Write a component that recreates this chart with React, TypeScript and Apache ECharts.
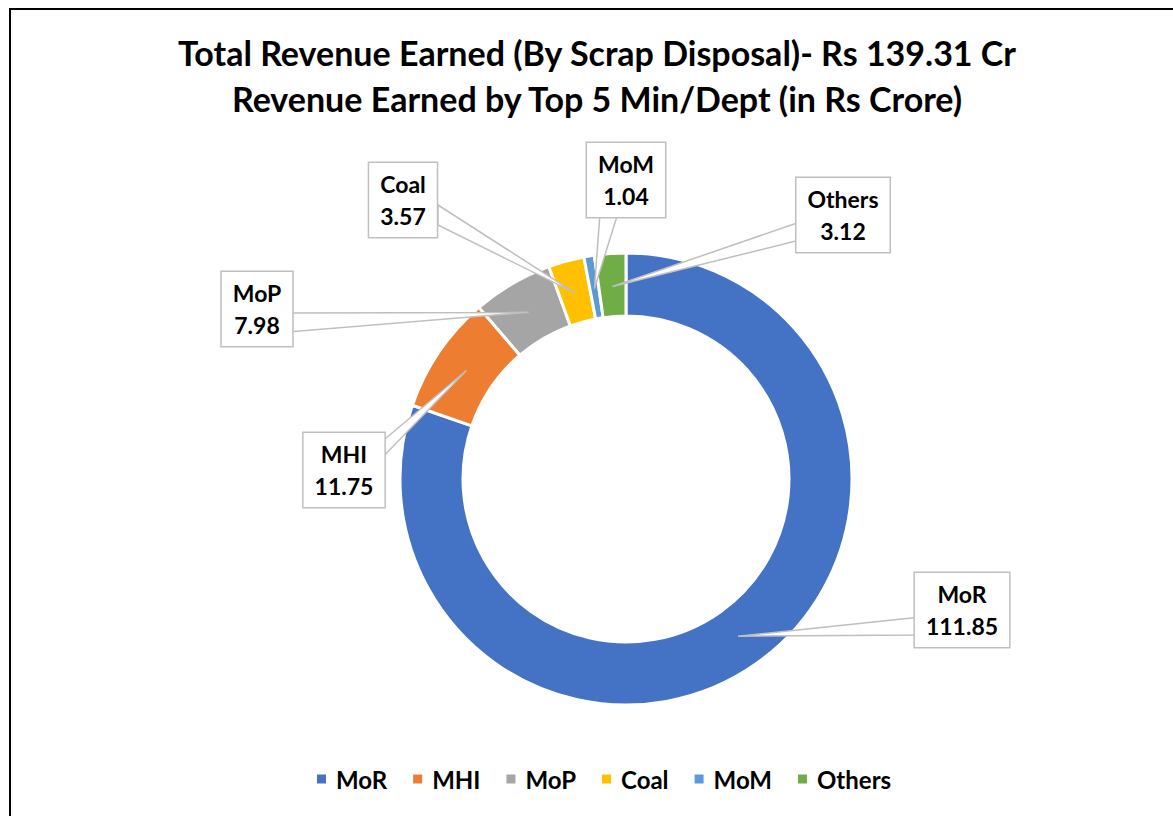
import React, { useEffect, useRef } from 'react';
import * as echarts from 'echarts';

// ---- data ----
const categories = ['MoR', 'MHI', 'MoP', 'Coal', 'MoM', 'Others'];
const revenue = [111.85, 11.75, 7.98, 3.57, 1.04, 3.12];
const colors = ['#4472C4', '#ED7D31', '#A5A5A5', '#FFC000', '#5B9BD5', '#70AD47'];
const titleLines = [
  'Total Revenue Earned (By Scrap Disposal)- Rs 139.31 Cr',
  'Revenue Earned by Top 5 Min/Dept (in Rs Crore)',
];

// ---- layout (positions / sizes) ----
const FONT = 'Lato, "Open Sans", "DejaVu Sans", sans-serif';
const CENTER: [number, number] = [626, 479];
const RADII: [number, number] = [163, 226];
const TIP_R = 193;
const labelBoxes: Record<string, [number, number]> = {
  MoR: [962, 610],
  MHI: [344, 470],
  MoP: [257, 309],
  Coal: [403, 200],
  MoM: [626, 180],
  Others: [843, 215],
};
const wedgeBases: Record<string, [number, number][]> = {
  MoR: [[921, 617], [921, 635]],
  MHI: [[379, 444], [379, 461]],
  MoP: [[288, 313], [288, 332]],
  Coal: [[438, 205], [438, 225]],
  MoM: [[600, 213], [618, 213]],
  Others: [[800, 222], [800, 240]],
};

function tipPoint(i: number): [number, number] {
  const total = revenue.reduce((a, b) => a + b, 0);
  let cum = 0;
  for (let k = 0; k < i; k++) cum += revenue[k];
  const frac = (cum + revenue[i] / 2) / total;
  const th = frac * Math.PI * 2;
  return [CENTER[0] + TIP_R * Math.sin(th), CENTER[1] - TIP_R * Math.cos(th)];
}

export default function App() {
  const ref = useRef<HTMLDivElement>(null);
  useEffect(() => {
    if (!ref.current) return;
    const chart = echarts.init(ref.current, null, { renderer: 'svg' });
    const data = categories.map((name, i) => ({
      name,
      value: revenue[i],
      itemStyle: { color: colors[i] },
    }));
    const wedges = categories.map((name, i) => {
      const [a, b] = wedgeBases[name];
      return {
        type: 'polygon',
        z: 3,
        silent: true,
        shape: { points: [a, tipPoint(i), b] },
        style: { fill: '#ffffff', stroke: '#BFBFBF', lineWidth: 1.5 },
      };
    });
    chart.setOption({
      animation: false,
      backgroundColor: '#ffffff',
      color: colors,
      title: {
        text: titleLines.join('\n'),
        left: 597,
        textAlign: 'center',
        top: 29,
        padding: 0,
        textStyle: {
          fontFamily: FONT,
          fontSize: 34,
          fontWeight: 'bold',
          color: '#000000',
          lineHeight: 46,
        },
      },
      legend: {
        data: categories,
        top: 767,
        left: 315,
        padding: 0,
        icon: 'rect',
        itemWidth: 11,
        itemHeight: 11,
        itemGap: 24,
        textStyle: {
          fontFamily: FONT,
          fontSize: 24,
          fontWeight: 'bold',
          color: '#000000',
          padding: [0, 0, 0, 4],
        },
      },
      graphic: [
        {
          type: 'line',
          z: 10,
          shape: { x1: 9, y1: 9, x2: 1180, y2: 9 },
          style: { stroke: '#000000', lineWidth: 2 },
        },
        {
          type: 'line',
          z: 10,
          shape: { x1: 10, y1: 8, x2: 10, y2: 830 },
          style: { stroke: '#000000', lineWidth: 2 },
        },
        ...wedges,
      ],
      series: [
        {
          type: 'pie',
          z: 2,
          center: CENTER,
          radius: RADII,
          startAngle: 90,
          clockwise: true,
          avoidLabelOverlap: false,
          label: { show: false },
          labelLine: { show: false },
          itemStyle: { borderColor: '#ffffff', borderWidth: 3 },
          data,
        },
        {
          type: 'pie',
          z: 5,
          silent: true,
          legendHoverLink: false,
          center: CENTER,
          radius: RADII,
          startAngle: 90,
          clockwise: true,
          avoidLabelOverlap: false,
          itemStyle: { color: 'rgba(0,0,0,0)', borderWidth: 0 },
          label: {
            show: true,
            position: 'outside',
            formatter: '{b}\n{c}',
            fontFamily: FONT,
            fontSize: 23,
            fontWeight: 'bold',
            color: '#000000',
            lineHeight: 32,
            align: 'center',
            backgroundColor: '#ffffff',
            borderColor: '#BFBFBF',
            borderWidth: 1.5,
            padding: [5, 11, 5, 11],
          },
          labelLine: { show: false },
          labelLayout: (p: any) => {
            const pos = labelBoxes[categories[p.dataIndex]];
            return { x: pos[0], y: pos[1], align: 'center', verticalAlign: 'middle' };
          },
          data: categories.map((name, i) => ({ name, value: revenue[i] })),
        },
      ],
    });
    return () => chart.dispose();
  }, []);
  return (
    <div
      ref={ref}
      style={{ position: 'fixed', left: 0, top: 0, width: 1173, height: 816 }}
    />
  );
}
